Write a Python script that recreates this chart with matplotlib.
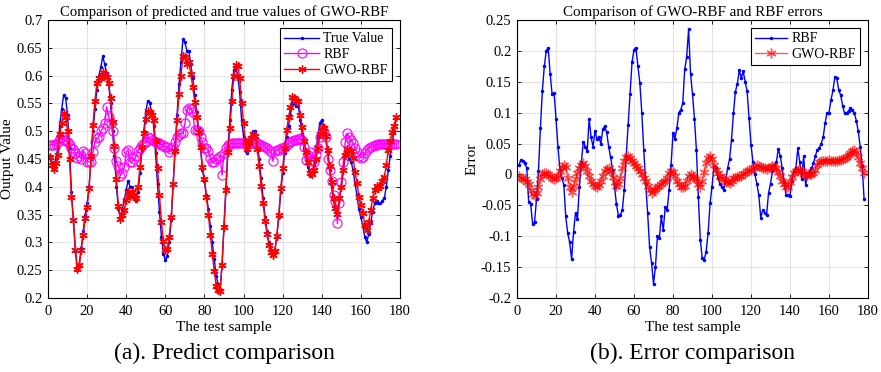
import matplotlib
matplotlib.use("Agg")
import matplotlib.pyplot as plt
import numpy as np
from matplotlib.ticker import FuncFormatter, MultipleLocator

plt.rcParams['font.family'] = ['Liberation Serif', 'DejaVu Serif']
plt.rcParams['axes.unicode_minus'] = False

# test sample index
samples = list(range(1, 179))

# true values
true_values = [
    0.455, 0.445, 0.440, 0.450, 0.470, 0.510, 0.540, 0.565, 0.560, 0.530,
    0.470, 0.390, 0.340, 0.285, 0.250, 0.260, 0.290, 0.320, 0.350, 0.370,
    0.400, 0.450, 0.500, 0.540, 0.575, 0.600, 0.615, 0.635, 0.620, 0.605,
    0.585, 0.550, 0.500, 0.455, 0.400, 0.360, 0.345, 0.360, 0.375, 0.395,
    0.410, 0.400, 0.400, 0.385, 0.375, 0.390, 0.425, 0.465, 0.500, 0.535,
    0.555, 0.550, 0.535, 0.510, 0.460, 0.405, 0.355, 0.310, 0.280, 0.268,
    0.275, 0.300, 0.340, 0.405, 0.470, 0.530, 0.585, 0.625, 0.665, 0.660,
    0.645, 0.645, 0.620, 0.595, 0.565, 0.535, 0.505, 0.470, 0.430, 0.410,
    0.385, 0.360, 0.330, 0.300, 0.270, 0.240, 0.225, 0.215, 0.260, 0.330,
    0.400, 0.470, 0.520, 0.575, 0.610, 0.615, 0.600, 0.570, 0.520, 0.490,
    0.465, 0.460, 0.475, 0.490, 0.500, 0.500, 0.480, 0.450, 0.415, 0.380,
    0.345, 0.320, 0.300, 0.285, 0.280, 0.285, 0.310, 0.345, 0.390, 0.425,
    0.460, 0.490, 0.510, 0.530, 0.550, 0.550, 0.545, 0.545, 0.520, 0.495,
    0.470, 0.450, 0.435, 0.420, 0.425, 0.440, 0.465, 0.490, 0.515, 0.520,
    0.510, 0.490, 0.460, 0.430, 0.400, 0.375, 0.360, 0.352, 0.380, 0.400,
    0.430, 0.455, 0.460, 0.450, 0.445, 0.430, 0.405, 0.385, 0.360, 0.345,
    0.330, 0.310, 0.300, 0.315, 0.335, 0.355, 0.370, 0.375, 0.370, 0.370,
    0.375, 0.380, 0.400, 0.430, 0.455, 0.480, 0.500, 0.523,
]

# RBF predicted values
rbf_pred = [
    0.475, 0.476, 0.476, 0.477, 0.480, 0.487, 0.490, 0.485, 0.483, 0.480,
    0.475, 0.470, 0.468, 0.460, 0.452, 0.455, 0.450, 0.465, 0.460, 0.445,
    0.445, 0.445, 0.462, 0.480, 0.487, 0.490, 0.500, 0.505, 0.515, 0.544,
    0.526, 0.514, 0.500, 0.470, 0.446, 0.437, 0.420, 0.425, 0.435, 0.463,
    0.466, 0.445, 0.445, 0.450, 0.455, 0.465, 0.470, 0.475, 0.478, 0.480,
    0.490, 0.487, 0.484, 0.482, 0.480, 0.479, 0.478, 0.476, 0.475, 0.472,
    0.472, 0.463, 0.468, 0.472, 0.481, 0.490, 0.494, 0.496, 0.496, 0.514,
    0.538, 0.542, 0.540, 0.535, 0.502, 0.502, 0.500, 0.490, 0.481, 0.469,
    0.469, 0.465, 0.451, 0.445, 0.445, 0.450, 0.452, 0.455, 0.421, 0.460,
    0.470, 0.475, 0.477, 0.478, 0.478, 0.478, 0.478, 0.478, 0.478, 0.478,
    0.478, 0.478, 0.478, 0.478, 0.478, 0.478, 0.478, 0.477, 0.476, 0.474,
    0.472, 0.469, 0.466, 0.463, 0.446, 0.465, 0.466, 0.467, 0.469, 0.470,
    0.472, 0.475, 0.478, 0.480, 0.482, 0.484, 0.485, 0.486, 0.487, 0.485,
    0.472, 0.448, 0.457, 0.463, 0.448, 0.445, 0.457, 0.469, 0.490, 0.496,
    0.499, 0.490, 0.450, 0.430, 0.410, 0.385, 0.375, 0.334, 0.370, 0.409,
    0.445, 0.480, 0.496, 0.490, 0.484, 0.478, 0.470, 0.462, 0.456, 0.452,
    0.454, 0.460, 0.466, 0.470, 0.472, 0.474, 0.475, 0.476, 0.477, 0.477,
    0.477, 0.477, 0.477, 0.477, 0.477, 0.477, 0.477, 0.477,
]

# GWO-RBF error (prediction - true)
gwo_error = [
    -0.002, -0.006, -0.008, -0.008, -0.012, -0.015, -0.025, -0.032, -0.035, -0.030,
    -0.020, -0.008, 0.000, 0.002, 0.003, 0.000, -0.003, -0.006, -0.007, -0.006,
    -0.003, 0.005, 0.012, 0.015, 0.012, -0.005, -0.020, -0.028, -0.018, -0.008,
    0.002, 0.010, 0.016, 0.018, 0.014, 0.005, -0.003, -0.010, -0.016, -0.019,
    -0.020, -0.017, -0.010, -0.002, 0.005, 0.009, 0.010, 0.006, -0.004, -0.013,
    -0.018, -0.015, -0.005, 0.010, 0.022, 0.028, 0.030, 0.027, 0.022, 0.018,
    0.014, 0.010, 0.005, 0.000, -0.005, -0.010, -0.018, -0.025, -0.030, -0.027,
    -0.024, -0.020, -0.018, -0.015, -0.012, -0.010, -0.006, 0.002, 0.005, 0.004,
    -0.003, -0.010, -0.016, -0.020, -0.021, -0.018, -0.010, -0.003, 0.000, -0.002,
    -0.005, -0.008, -0.015, -0.020, -0.010, 0.004, 0.018, 0.026, 0.030, 0.025,
    0.015, 0.008, 0.003, -0.002, -0.005, -0.008, -0.012, -0.013, -0.014, -0.010,
    -0.006, -0.005, -0.004, -0.003, -0.002, 0.000, 0.002, 0.005, 0.007, 0.008,
    0.010, 0.012, 0.015, 0.014, 0.012, 0.010, 0.010, 0.009, 0.010, 0.012,
    0.013, 0.012, 0.010, 0.004, -0.002, -0.010, -0.015, -0.020, -0.020, -0.012,
    -0.004, 0.002, 0.006, 0.008, 0.008, 0.005, 0.001, -0.001, 0.000, 0.000,
    0.001, 0.003, 0.008, 0.015, 0.020, 0.022, 0.022, 0.022, 0.022, 0.023,
    0.022, 0.022, 0.022, 0.022, 0.023, 0.024, 0.025, 0.026, 0.028, 0.031,
    0.035, 0.038, 0.040, 0.036, 0.028, 0.018, 0.010, 0.002,
]

# RBF error (prediction - true)
rbf_error = [
    0.015, 0.024, 0.022, 0.018, 0.010, -0.045, -0.048, -0.080, -0.077, -0.040,
    0.005, 0.075, 0.135, 0.175, 0.200, 0.205, 0.163, 0.130, 0.132, 0.090,
    0.045, 0.008, -0.005, -0.017, -0.068, -0.095, -0.110, -0.137, -0.093, -0.062,
    -0.072, -0.020, 0.020, 0.053, 0.045, 0.038, 0.090, 0.060, 0.045, 0.070,
    0.058, 0.060, 0.050, 0.073, 0.078, 0.068, 0.045, 0.028, 0.008, -0.020,
    -0.048, -0.067, -0.065, -0.058, -0.025, 0.030, 0.080, 0.130, 0.182, 0.202,
    0.205, 0.175, 0.148, 0.100, 0.040, -0.015, -0.063, -0.118, -0.143, -0.177,
    -0.150, -0.100, -0.103, -0.068, -0.090, -0.053, -0.058, -0.025, 0.015, 0.067,
    0.058, 0.075, 0.100, 0.105, 0.115, 0.170, 0.190, 0.235, 0.163, 0.130,
    0.090, 0.040, -0.037, -0.106, -0.136, -0.138, -0.125, -0.095, -0.047, -0.020,
    0.013, 0.010, -0.005, -0.015, -0.020, -0.025, -0.010, 0.010, 0.025, 0.056,
    0.099, 0.134, 0.147, 0.169, 0.156, 0.167, 0.150, 0.135, 0.091, 0.048,
    0.020, 0.000, -0.015, -0.033, -0.070, -0.058, -0.062, -0.065, -0.030, -0.015,
    0.005, 0.015, 0.020, 0.041, 0.030, 0.010, -0.012, -0.034, -0.033, -0.035,
    -0.010, 0.005, 0.010, 0.042, 0.020, -0.007, 0.030, -0.017, -0.003, 0.005,
    0.010, 0.018, 0.030, 0.040, 0.043, 0.050, 0.060, 0.083, 0.100, 0.100,
    0.120, 0.136, 0.157, 0.156, 0.136, 0.128, 0.111, 0.099, 0.099, 0.103,
    0.107, 0.105, 0.100, 0.087, 0.070, 0.045, 0.014, -0.040,
]

x = np.array(samples)
yt = np.array(true_values)
gwo_pred = yt + np.array(gwo_error)

ast = (6, 2, 0)  # asterisk marker

fig = plt.figure(figsize=(8.81, 3.72), dpi=100)
ax1 = fig.add_axes([48/881, 1-298/372, 352/881, 278/372])
ax2 = fig.add_axes([517/881, 1-298/372, 351/881, 278/372])

fmt = FuncFormatter(lambda v, p: ('%g' % round(v, 4)))

for ax in (ax1, ax2):
    ax.grid(True, color='#e3e3e3', linewidth=0.8)
    ax.set_axisbelow(True)
    ax.tick_params(direction='in', top=True, right=True, labelsize=10.5, length=3, width=0.6, pad=4)
    ax.tick_params(axis='x', pad=5)
    for s in ax.spines.values():
        s.set_linewidth(0.8)
    ax.yaxis.set_major_formatter(fmt)
    ax.set_xlim(0, 180)
    ax.xaxis.set_major_locator(MultipleLocator(20))
    ax.set_xlabel('The test sample', fontsize=11, labelpad=2)

# left panel
ax1.plot(x, yt, color='blue', marker='.', markersize=3, linewidth=1.0, label='True Value')
ax1.plot(x, rbf_pred, color='magenta', marker='o', markersize=6.5, markerfacecolor='none',
         markeredgewidth=0.8, linewidth=1.0, label='RBF')
ax1.plot(x, gwo_pred, color='red', marker=ast, markersize=6, markeredgewidth=1.0,
         linewidth=1.0, label='GWO-RBF')
ax1.set_ylim(0.2, 0.7)
ax1.yaxis.set_major_locator(MultipleLocator(0.05))
ax1.set_ylabel('Output Value', fontsize=11)
ax1.yaxis.set_label_coords(-0.097, 0.5)
ax1.set_title('Comparison of predicted and true values of GWO-RBF', fontsize=10.6, pad=3)
leg1 = ax1.legend(loc='upper right', fontsize=10, fancybox=False, edgecolor='black',
                  framealpha=1, borderpad=0.3, labelspacing=0.2, handlelength=2.5,
                  handletextpad=0.3, borderaxespad=0.6)
leg1.get_frame().set_linewidth(0.8)

# right panel
ax2.plot(x, rbf_error, color='blue', marker='.', markersize=3, linewidth=1.0, label='RBF')
ax2.plot(x, gwo_error, color='red', marker=ast, markersize=7, markeredgewidth=1.0,
         linewidth=1.0, alpha=0.65, label='GWO-RBF')
ax2.set_ylim(-0.2, 0.25)
ax2.yaxis.set_major_locator(MultipleLocator(0.05))
ax2.set_ylabel('Error', fontsize=11)
ax2.yaxis.set_label_coords(-0.11, 0.5)
ax2.set_title('Comparison of GWO-RBF and RBF errors', fontsize=10.8, pad=3)
leg2 = ax2.legend(loc='upper right', fontsize=10, fancybox=False, edgecolor='black',
                  framealpha=1, borderpad=0.3, labelspacing=0.2, handlelength=2.3,
                  handletextpad=0.3, borderaxespad=0.6)
leg2.get_frame().set_linewidth(0.8)

fig.text(224/881, 1-353/372, '(a). Predict comparison', ha='center', va='center', fontsize=17)
fig.text(692/881, 1-353/372, '(b). Error comparison', ha='center', va='center', fontsize=17)

fig.savefig('out.png', dpi=100)
